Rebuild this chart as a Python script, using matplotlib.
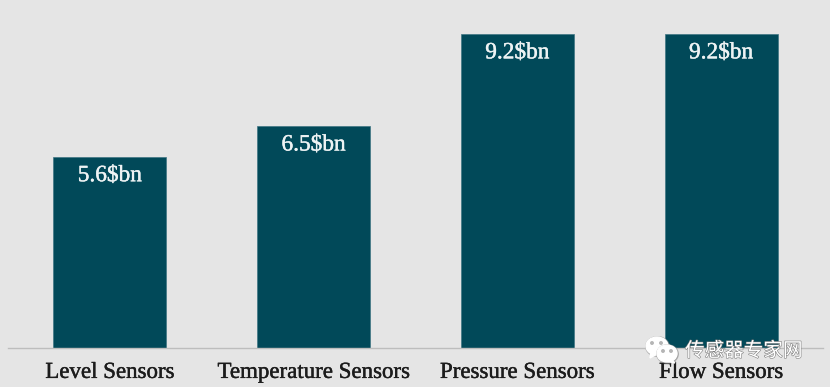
import matplotlib
matplotlib.use('Agg')
import matplotlib.pyplot as plt
from matplotlib.patches import Ellipse, Polygon
import matplotlib.patheffects as pe

categories = ['Level Sensors', 'Temperature Sensors', 'Pressure Sensors', 'Flow Sensors']
values = [5.6, 6.5, 9.2, 9.2]
value_labels = ['5.6\\$bn', '6.5\\$bn', '9.2\\$bn', '9.2\\$bn']
watermark = '传感器专家网'

W, H = 830, 387
bg = '#e5e5e5'
bar_color = '#014959'

fig = plt.figure(figsize=(W/100, H/100), dpi=100, facecolor=bg)
ax = fig.add_axes([8/W, 1-348/H, 815/W, 341.3/H], facecolor=bg)

x = range(len(categories))
ax.bar(x, values, width=0.555, color=bar_color, edgecolor='#3f7684', linewidth=0.5, zorder=2)
ax.set_xlim(-0.5, 3.5)
ax.set_ylim(0, 10)

for i in x:
    ax.annotate(value_labels[i], (i, values[i]), xytext=(0, -6), textcoords='offset points',
                ha='center', va='top', color='#eef3f4', fontsize=16.8, family='Liberation Serif',
                path_effects=[pe.withStroke(linewidth=0.3, foreground='#eef3f4')])

for s in ['top', 'left', 'right']:
    ax.spines[s].set_visible(False)
ax.spines['bottom'].set_color('#bdbdbd')
ax.spines['bottom'].set_linewidth(1)
ax.set_yticks([])
ax.set_xticks(list(x))
ax.set_xticklabels(categories, fontsize=16.5, family='Liberation Serif', color='#1c1c1c',
                   path_effects=[pe.withStroke(linewidth=0.3, foreground='#1c1c1c')])
ax.tick_params(axis='x', length=0, pad=10)

# watermark in pixel coords
wm = fig.add_axes([0, 0, 1, 1], facecolor='none')
wm.set_xlim(0, W)
wm.set_ylim(H, 0)
wm.axis('off')
for cx, cy, w, h, tail in [(657, 346, 22, 18, [(651, 352), (650, 358), (657, 354)]),
                           (667, 353.5, 20, 17, [(671, 359), (675, 363), (666, 361)])]:
    wm.add_patch(Ellipse((cx+0.5, cy+0.5), w+1.5, h+1.5, color='#8f8f8f', alpha=0.6))
    wm.add_patch(Polygon(tail, color='white'))
    wm.add_patch(Ellipse((cx, cy), w, h, color='white'))
for px, py in [(652, 343), (661, 343), (663, 351), (671, 351)]:
    wm.add_patch(Ellipse((px, py), 2.5, 2.5, color='#b5b5b5'))
wm.text(685, 351, watermark, family=['Noto Sans CJK SC', 'DejaVu Sans'], fontsize=14.1,
        color='white', va='center', ha='left',
        path_effects=[pe.withStroke(linewidth=0.8, foreground='#7f7f7f')])

fig.savefig('out.png', dpi=100, facecolor=bg)
